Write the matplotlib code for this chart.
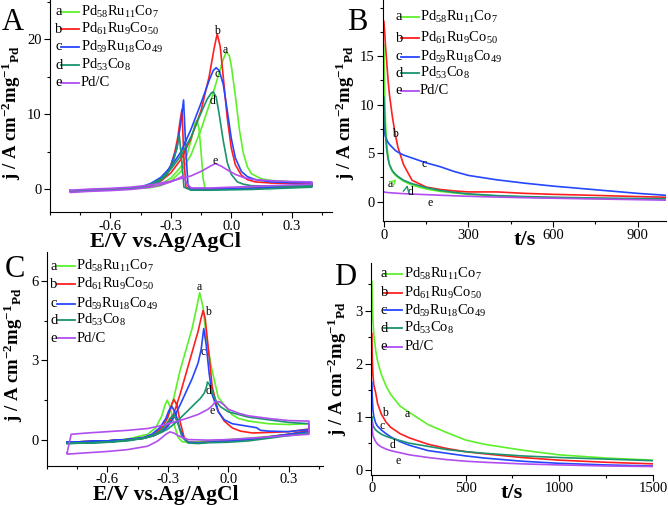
import matplotlib
matplotlib.use("Agg")
import matplotlib.pyplot as plt
from matplotlib.ticker import AutoMinorLocator

plt.rcParams['font.family'] = ['Liberation Serif', 'DejaVu Serif']
plt.rcParams['mathtext.fontset'] = 'custom'
plt.rcParams['mathtext.rm'] = 'Liberation Serif'
plt.rcParams['mathtext.it'] = 'Liberation Serif:italic'
plt.rcParams['mathtext.bf'] = 'Liberation Serif:bold'
plt.rcParams['mathtext.default'] = 'regular'
plt.rcParams['axes.unicode_minus'] = False

letters = ['a', 'b', 'c', 'd', 'e']
names = ['Pd$_{58}$Ru$_{11}$Co$_{7}$', 'Pd$_{61}$Ru$_{9}$Co$_{50}$',
         'Pd$_{59}$Ru$_{18}$Co$_{49}$', 'Pd$_{53}$Co$_{8}$', 'Pd/C']
colors = ['#5cf02a', '#ff1f1f', '#2447ff', '#1b9370', '#b04ef0']

# ---- panel A: CV (forward scan then backward scan) ----
A_a_E = [-0.8, -0.6, -0.5, -0.45, -0.4, -0.35, -0.3, -0.25, -0.2, -0.15, -0.1, -0.06, -0.04, -0.025, -0.01, 0.0, 0.02, 0.04, 0.06, 0.08, 0.1, 0.15, 0.2, 0.3, 0.4,
         0.4, 0.3, 0.2, 0.1, 0.0, -0.1, -0.13, -0.14, -0.15, -0.16, -0.17, -0.18, -0.2, -0.22, -0.25, -0.3, -0.35, -0.4, -0.5, -0.6, -0.8, -0.8]
A_a_j = [-0.2, 0.0, 0.1, 0.15, 0.25, 0.5, 1.1, 2.4, 4.6, 8.0, 12.0, 15.5, 17.3, 18.3, 17.8, 16.5, 12.5, 8.0, 4.8, 3.0, 2.1, 1.4, 1.2, 1.0, 0.9,
         0.5, 0.4, 0.3, 0.2, 0.1, 0.05, 0.1, 1.5, 5.0, 8.0, 9.2, 8.8, 6.5, 4.6, 3.0, 1.5, 0.7, 0.35, 0.1, -0.05, -0.3, -0.2]
A_b_E = [-0.8, -0.6, -0.5, -0.45, -0.4, -0.35, -0.3, -0.25, -0.2, -0.15, -0.11, -0.085, -0.07, -0.055, -0.04, -0.02, 0.0, 0.02, 0.05, 0.08, 0.12, 0.2, 0.3, 0.4,
         0.4, 0.3, 0.2, 0.1, 0.0, -0.1, -0.2, -0.225, -0.235, -0.245, -0.255, -0.265, -0.28, -0.3, -0.33, -0.37, -0.42, -0.5, -0.6, -0.8, -0.8]
A_b_j = [-0.2, 0.0, 0.1, 0.2, 0.5, 1.1, 2.2, 4.0, 6.8, 10.5, 15.0, 18.8, 20.7, 19.0, 15.0, 9.5, 5.5, 3.3, 1.9, 1.3, 1.0, 0.85, 0.8, 0.8,
         0.4, 0.3, 0.25, 0.15, 0.1, 0.05, 0.05, 0.3, 4.0, 10.6, 9.0, 7.0, 5.0, 3.2, 1.7, 0.9, 0.4, 0.1, -0.05, -0.2, -0.2]
A_c_E = [-0.8, -0.6, -0.5, -0.45, -0.4, -0.35, -0.3, -0.25, -0.2, -0.15, -0.11, -0.09, -0.075, -0.06, -0.04, -0.02, 0.0, 0.02, 0.05, 0.08, 0.12, 0.2, 0.3, 0.4,
         0.4, 0.3, 0.2, 0.1, 0.0, -0.1, -0.2, -0.215, -0.225, -0.237, -0.25, -0.27, -0.3, -0.33, -0.37, -0.42, -0.5, -0.6, -0.8, -0.8]
A_c_j = [-0.2, 0.0, 0.15, 0.3, 0.8, 1.6, 3.0, 5.0, 8.0, 11.5, 14.5, 15.8, 16.2, 15.8, 14.0, 10.5, 6.8, 4.2, 2.4, 1.7, 1.3, 1.0, 0.9, 0.9,
         0.5, 0.35, 0.25, 0.15, 0.1, 0.05, 0.05, 0.5, 5.0, 11.9, 9.0, 5.5, 3.2, 1.8, 0.9, 0.4, 0.1, -0.05, -0.2, -0.2]
A_d_E = [-0.8, -0.6, -0.5, -0.45, -0.4, -0.35, -0.3, -0.25, -0.2, -0.15, -0.12, -0.1, -0.09, -0.075, -0.06, -0.04, -0.02, 0.0, 0.03, 0.06, 0.1, 0.2, 0.3, 0.4,
         0.4, 0.3, 0.2, 0.1, 0.0, -0.1, -0.2, -0.235, -0.245, -0.258, -0.27, -0.29, -0.32, -0.36, -0.42, -0.5, -0.6, -0.8, -0.8]
A_d_j = [-0.2, 0.0, 0.15, 0.3, 0.7, 1.4, 2.7, 4.5, 7.0, 10.2, 12.0, 12.8, 13.0, 12.3, 10.0, 6.5, 3.6, 2.0, 1.0, 0.7, 0.5, 0.45, 0.45, 0.5,
         0.3, 0.2, 0.1, 0.0, -0.05, -0.1, -0.1, 0.3, 3.5, 7.2, 5.5, 3.5, 1.9, 1.0, 0.4, 0.1, -0.05, -0.2, -0.2]
A_e_E = [-0.8, -0.7, -0.6, -0.5, -0.4, -0.3, -0.2, -0.15, -0.11, -0.08, -0.05, -0.02, 0.02, 0.06, 0.1, 0.2, 0.3, 0.4,
         0.4, 0.3, 0.2, 0.1, 0.0, -0.1, -0.2, -0.22, -0.24, -0.26, -0.3, -0.35, -0.4, -0.5, -0.6, -0.7, -0.8, -0.8]
A_e_j = [-0.1, 0.05, 0.15, 0.3, 0.6, 1.1, 1.8, 2.4, 3.0, 3.45, 3.1, 2.6, 2.0, 1.6, 1.35, 1.15, 1.05, 1.0,
         0.7, 0.6, 0.5, 0.4, 0.3, 0.2, 0.2, 0.8, 1.8, 1.5, 1.0, 0.6, 0.3, 0.0, -0.15, -0.25, -0.4, -0.1]

# ---- panel C: CV ----
C_a_E = [-0.8, -0.6, -0.5, -0.42, -0.37, -0.33, -0.3, -0.27, -0.24, -0.21, -0.18, -0.16, -0.142, -0.125, -0.11, -0.083, -0.05, 0.017, 0.05, 0.1, 0.2, 0.3, 0.4,
         0.4, 0.3, 0.2, 0.1, 0.0, -0.1, -0.15, -0.2, -0.23, -0.25, -0.27, -0.29, -0.303, -0.315, -0.33, -0.36, -0.4, -0.5, -0.6, -0.8, -0.8]
C_a_j = [-0.1, -0.05, 0.0, 0.05, 0.15, 0.4, 0.85, 1.6, 2.6, 3.4, 4.2, 4.9, 5.56, 5.0, 3.9, 2.7, 1.6, 0.95, 0.8, 0.7, 0.6, 0.57, 0.6,
         0.3, 0.2, 0.12, 0.05, 0.0, -0.05, -0.08, -0.1, -0.08, 0.1, 0.6, 1.25, 1.49, 1.3, 0.9, 0.45, 0.2, 0.02, -0.05, -0.1, -0.1]
C_b_E = [-0.8, -0.6, -0.5, -0.42, -0.37, -0.33, -0.3, -0.27, -0.24, -0.21, -0.18, -0.15, -0.135, -0.125, -0.115, -0.1, -0.08, -0.05, -0.02, 0.02, 0.06, 0.12, 0.2, 0.3, 0.4,
         0.4, 0.3, 0.2, 0.1, 0.0, -0.1, -0.15, -0.2, -0.22, -0.24, -0.255, -0.27, -0.285, -0.3, -0.33, -0.37, -0.42, -0.5, -0.6, -0.8, -0.8]
C_b_j = [-0.1, -0.05, 0.0, 0.05, 0.15, 0.3, 0.55, 1.0, 1.7, 2.5, 3.3, 4.1, 4.6, 4.89, 4.6, 3.5, 2.0, 1.07, 0.7, 0.44, 0.32, 0.25, 0.27, 0.3, 0.4,
         0.35, 0.2, 0.1, 0.0, -0.05, -0.1, -0.12, -0.1, 0.1, 0.7, 1.3, 1.52, 1.25, 0.85, 0.45, 0.2, 0.08, 0.0, -0.05, -0.1, -0.1]
C_c_E = [-0.8, -0.6, -0.5, -0.42, -0.37, -0.33, -0.3, -0.27, -0.24, -0.21, -0.18, -0.15, -0.135, -0.122, -0.11, -0.095, -0.08, -0.05, -0.02, 0.02, 0.06, 0.1, 0.14, 0.16, 0.2, 0.3, 0.4,
         0.4, 0.3, 0.2, 0.1, 0.0, -0.1, -0.15, -0.2, -0.22, -0.24, -0.26, -0.28, -0.295, -0.31, -0.34, -0.38, -0.42, -0.5, -0.6, -0.8, -0.8]
C_c_j = [-0.1, -0.05, 0.0, 0.05, 0.15, 0.3, 0.5, 0.85, 1.3, 1.8, 2.3, 2.9, 3.4, 4.2, 3.6, 2.5, 1.7, 1.05, 0.75, 0.6, 0.55, 0.5, 0.45, 0.35, 0.32, 0.3, 0.38,
         0.3, 0.2, 0.1, 0.0, -0.05, -0.1, -0.12, -0.1, 0.05, 0.4, 0.95, 1.26, 1.1, 0.8, 0.45, 0.2, 0.08, 0.0, -0.05, -0.1, -0.1]
C_d_E = [-0.8, -0.6, -0.5, -0.42, -0.37, -0.33, -0.3, -0.26, -0.22, -0.18, -0.14, -0.12, -0.11, -0.103, -0.095, -0.08, -0.06, -0.04, 0.0, 0.05, 0.1, 0.2, 0.3, 0.4,
         0.4, 0.3, 0.2, 0.1, 0.0, -0.1, -0.15, -0.2, -0.23, -0.25, -0.27, -0.29, -0.31, -0.34, -0.38, -0.42, -0.5, -0.6, -0.8, -0.8]
C_d_j = [-0.15, -0.1, -0.02, 0.05, 0.15, 0.28, 0.4, 0.65, 0.95, 1.25, 1.55, 1.75, 1.95, 2.18, 2.1, 1.8, 1.45, 1.25, 1.05, 0.95, 0.85, 0.75, 0.65, 0.6,
         0.25, 0.15, 0.05, -0.05, -0.1, -0.12, -0.15, -0.13, 0.1, 0.6, 0.95, 0.8, 0.55, 0.3, 0.15, 0.05, -0.05, -0.1, -0.15, -0.15]
C_e_E = [-0.8, -0.78, -0.7, -0.6, -0.5, -0.4, -0.35, -0.3, -0.25, -0.2, -0.15, -0.1, -0.08, -0.063, -0.04, -0.02, 0.0, 0.05, 0.1, 0.2, 0.3, 0.4,
         0.4, 0.3, 0.2, 0.1, 0.0, -0.1, -0.2, -0.25, -0.27, -0.29, -0.31, -0.35, -0.4, -0.5, -0.6, -0.7, -0.8, -0.8]
C_e_j = [-0.5, 0.2, 0.25, 0.3, 0.35, 0.42, 0.5, 0.6, 0.7, 0.82, 0.95, 1.15, 1.28, 1.45, 1.42, 1.3, 1.15, 1.0, 0.9, 0.8, 0.72, 0.7,
         0.2, 0.15, 0.1, 0.05, 0.0, -0.02, 0.0, 0.15, 0.25, 0.29, 0.2, -0.05, -0.25, -0.38, -0.45, -0.5, -0.55, -0.5]

# ---- panel B: chronoamperometry ----
B_t = [0, 3, 6, 10, 15, 20, 30, 40, 50, 70, 100, 150, 200, 250, 300, 400, 500, 600, 700, 800, 900, 1000]
B_a = [16.2, 11, 8, 6, 4.6, 3.8, 3.1, 2.75, 2.5, 2.1, 1.7, 1.3, 1.05, 0.9, 0.75, 0.58, 0.47, 0.4, 0.34, 0.3, 0.27, 0.24]
B_b = [18.6, 17.5, 16, 14.5, 12.5, 11, 8.8, 7.0, 5.6, 3.8, 2.2, 1.5, 1.25, 1.1, 1.0, 1.0, 0.85, 0.75, 0.68, 0.6, 0.52, 0.45]
B_c = [8.5, 7.0, 6.7, 6.4, 6.1, 5.9, 5.6, 5.3, 5.1, 4.8, 4.5, 4.0, 3.6, 3.1, 2.7, 2.25, 1.9, 1.6, 1.35, 1.1, 0.85, 0.65]
B_d = [10.8, 8.5, 6.8, 5.4, 4.4, 3.8, 3.2, 2.85, 2.6, 2.2, 1.85, 1.45, 1.15, 0.95, 0.8, 0.62, 0.52, 0.45, 0.4, 0.35, 0.32, 0.3]
B_e = [1.0, 0.98, 0.96, 0.95, 0.93, 0.92, 0.9, 0.88, 0.86, 0.82, 0.78, 0.72, 0.66, 0.6, 0.55, 0.47, 0.4, 0.35, 0.3, 0.25, 0.2, 0.15]

# ---- panel D: chronoamperometry ----
D_t = [0, 2, 5, 10, 20, 30, 50, 75, 100, 150, 200, 300, 400, 500, 600, 800, 1000, 1250, 1500]
D_a = [3.55, 3.2, 2.85, 2.55, 2.25, 2.05, 1.8, 1.58, 1.42, 1.2, 1.08, 0.85, 0.7, 0.56, 0.48, 0.37, 0.28, 0.22, 0.18]
D_b = [2.57, 2.1, 1.8, 1.6, 1.45, 1.25, 1.05, 0.9, 0.8, 0.68, 0.6, 0.48, 0.4, 0.34, 0.3, 0.23, 0.18, 0.14, 0.11]
D_c = [1.65, 1.35, 1.15, 1.0, 0.88, 0.82, 0.75, 0.68, 0.62, 0.53, 0.46, 0.36, 0.31, 0.26, 0.22, 0.16, 0.12, 0.09, 0.07]
D_d = [1.0, 0.92, 0.85, 0.8, 0.75, 0.72, 0.67, 0.63, 0.6, 0.55, 0.5, 0.44, 0.38, 0.34, 0.31, 0.26, 0.23, 0.2, 0.17]
D_e = [0.9, 0.75, 0.65, 0.6, 0.53, 0.48, 0.43, 0.39, 0.36, 0.32, 0.28, 0.23, 0.19, 0.16, 0.14, 0.11, 0.09, 0.07, 0.06]

# curve letter positions (x, y in data units)
A_lab = [(-0.03, 18.6), (-0.072, 21.1), (-0.07, 15.3), (-0.092, 11.7), (-0.08, 3.8)]
B_lab = [(24, 1.8), (41, 7.0), (142, 3.9), (95, 1.0), (163, -0.1)]
C_lab = [(-0.145, 5.77), (-0.103, 4.84), (-0.125, 3.32), (-0.1, 1.83), (-0.08, 1.1)]
D_lab = [(187, 1.05), (71, 1.07), (55, 0.82), (111, 0.47), (141, 0.17)]

fig = plt.figure(figsize=(6.68, 5.05), dpi=100)
W, H = 668.0, 505.0


def make_ax(l, t, r, b):
    ax = fig.add_axes([l / W, 1 - b / H, (r - l) / W, (b - t) / H])
    for s in ['top', 'right']:
        ax.spines[s].set_visible(False)
    ax.tick_params(direction='out', length=4, width=0.8, labelsize=10.5, pad=2)
    ax.tick_params(which='minor', direction='out', length=2.5, width=0.8)
    ax.xaxis.set_minor_locator(AutoMinorLocator(2))
    ax.yaxis.set_minor_locator(AutoMinorLocator(2))
    return ax


def draw_key(ax, xs, rows):
    for i in range(5):
        y = rows[i]
        ax.text(xs[0], y, letters[i], transform=ax.transAxes, va='center', ha='left', fontsize=10.5)
        ax.plot([xs[1], xs[2]], [y, y], transform=ax.transAxes, color=colors[i], lw=1.3, clip_on=False)
        ax.text(xs[3], y, names[i], transform=ax.transAxes, va='center', ha='left', fontsize=10.5)


def curve_labels(ax, pos):
    for i, (x, y) in enumerate(pos):
        ax.text(x, y, letters[i], fontsize=8.5, ha='center', va='center')


def labels(ax, xl, xsize, xpos, ypos):
    ax.set_xlabel(xl, fontsize=xsize, fontweight='bold', va='top')
    ax.set_ylabel('j / A cm$^{-2}$mg$^{-1}$$_{Pd}$', fontsize=13.5, fontweight='bold')
    ax.xaxis.set_label_coords(*xpos)
    ax.yaxis.set_label_coords(*ypos)


# A
axA = make_ax(50, 0, 332, 212)
for E, j, c in zip([A_a_E, A_b_E, A_c_E, A_d_E, A_e_E], [A_a_j, A_b_j, A_c_j, A_d_j, A_e_j], colors):
    axA.plot(E, j, color=c, lw=1.2)
axA.set_xlim(-0.9, 0.5)
axA.set_ylim(-3, 25.2)
axA.set_xticks([-0.6, -0.3, 0.0, 0.3])
axA.set_yticks([0, 10, 20])
labels(axA, 'E/V vs.Ag/AgCl', 16, (0.41, -0.095), (-0.096, 0.47))
draw_key(axA, [0.018, 0.039, 0.103, 0.11], [0.945, 0.862, 0.78, 0.693, 0.61])
curve_labels(axA, A_lab)

# B
axB = make_ax(383, 0, 666, 221)
for j, c in zip([B_a, B_b, B_c, B_d, B_e], colors):
    axB.plot(B_t, j, color=c, lw=1.2)
axB.set_xlim(-3, 1000)
axB.set_ylim(-2, 20.8)
axB.set_xticks([0, 300, 600, 900])
axB.set_yticks([0, 5, 10, 15])
labels(axB, 't/s', 16, (0.5, -0.04), (-0.092, 0.49))
draw_key(axB, [0.045, 0.063, 0.127, 0.131], [0.924, 0.827, 0.743, 0.668, 0.59])
curve_labels(axB, B_lab)
axB.annotate('', xy=(52, 2.5), xytext=(30, 1.9),
             arrowprops=dict(arrowstyle='->', color=colors[0], lw=1))
axB.annotate('', xy=(86, 2.0), xytext=(80, 1.2),
             arrowprops=dict(arrowstyle='->', color=colors[3], lw=1))

# C
axC = make_ax(47, 252, 323, 466)
for E, j, c in zip([C_a_E, C_b_E, C_c_E, C_d_E, C_e_E], [C_a_j, C_b_j, C_c_j, C_d_j, C_e_j], colors):
    axC.plot(E, j, color=c, lw=1.2)
axC.set_xlim(-0.9, 0.47)
axC.set_ylim(-1, 7.1)
axC.set_xticks([-0.6, -0.3, 0.0, 0.3])
axC.set_yticks([0, 3, 6])
axC.tick_params(axis='x', pad=1)
labels(axC, 'E/V vs.Ag/AgCl', 15.5, (0.43, -0.09), (-0.08, 0.52))
draw_key(axC, [0.012, 0.036, 0.102, 0.106], [0.934, 0.849, 0.758, 0.681, 0.598])
curve_labels(axC, C_lab)

# D
axD = make_ax(371, 263, 653, 475)
for j, c in zip([D_a, D_b, D_c, D_d, D_e], colors):
    axD.plot(D_t, j, color=c, lw=1.2)
axD.set_xlim(-5, 1500)
axD.set_ylim(-0.1, 3.9)
axD.set_xticks([0, 500, 1000, 1500])
axD.set_yticks([0, 1, 2, 3])
axD.tick_params(axis='x', pad=1)
labels(axD, 't/s', 16, (0.5, -0.04), (-0.078, 0.5))
draw_key(axD, [0.035, 0.047, 0.111, 0.118], [0.95, 0.86, 0.776, 0.693, 0.606])
curve_labels(axD, D_lab)

# panel letters
for lab, x, y in [('A', 2, 30), ('B', 347, 30), ('C', 5, 277), ('D', 334, 285)]:
    fig.text(x / W, 1 - y / H, lab, fontsize=22, va='baseline', ha='left')

fig.savefig('out.png', dpi=100)
